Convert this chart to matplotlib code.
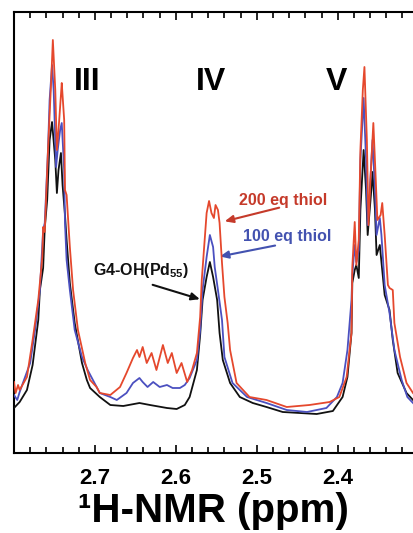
import matplotlib
matplotlib.use("Agg")
import matplotlib.pyplot as plt
from matplotlib.ticker import MultipleLocator

plt.rcParams["font.family"] = ["Liberation Sans", "DejaVu Sans"]
plt.rcParams["font.weight"] = "bold"
plt.rcParams["mathtext.fontset"] = "custom"
plt.rcParams["mathtext.rm"] = "Liberation Sans:bold"
plt.rcParams["mathtext.bf"] = "Liberation Sans:bold"

# chemical shift (ppm) and intensity (a.u.)
black_ppm = [2.800, 2.793, 2.784, 2.777, 2.770, 2.768, 2.764, 2.762, 2.759, 2.756,
             2.753, 2.749, 2.747, 2.745, 2.742, 2.740, 2.737, 2.735, 2.731, 2.725,
             2.716, 2.710, 2.706, 2.694, 2.681, 2.665, 2.645, 2.632, 2.611, 2.599,
             2.589, 2.583, 2.574, 2.570, 2.567, 2.562, 2.558, 2.554, 2.549, 2.546,
             2.542, 2.533, 2.521, 2.505, 2.488, 2.468, 2.447, 2.426, 2.406, 2.394,
             2.388, 2.383, 2.382, 2.379, 2.377, 2.374, 2.372, 2.368, 2.365, 2.363,
             2.359, 2.357, 2.354, 2.352, 2.348, 2.346, 2.342, 2.336, 2.332, 2.326,
             2.315, 2.307]
black_int = [45, 51, 63, 88, 133, 163, 185, 225, 253, 313,
             331, 293, 260, 283, 300, 268, 238, 213, 170, 130,
             90, 73, 65, 56, 48, 47, 50, 48, 45, 44,
             48, 56, 83, 118, 153, 176, 191, 176, 153, 120,
             93, 70, 56, 50, 46, 41, 40, 39, 42, 56,
             76, 120, 170, 183, 188, 175, 243, 303, 263, 218,
             258, 281, 243, 198, 208, 191, 158, 143, 113, 80,
             60, 53]

blue_ppm = [2.800, 2.796, 2.793, 2.789, 2.780, 2.774, 2.768, 2.764, 2.762, 2.758,
            2.756, 2.753, 2.751, 2.748, 2.746, 2.743, 2.741, 2.738, 2.737, 2.735,
            2.731, 2.725, 2.716, 2.709, 2.694, 2.681, 2.673, 2.661, 2.653, 2.645,
            2.641, 2.635, 2.628, 2.620, 2.611, 2.604, 2.595, 2.589, 2.583, 2.574,
            2.570, 2.567, 2.562, 2.558, 2.554, 2.552, 2.548, 2.543, 2.540, 2.530,
            2.512, 2.488, 2.463, 2.438, 2.414, 2.401, 2.394, 2.388, 2.383, 2.382,
            2.379, 2.377, 2.374, 2.372, 2.368, 2.365, 2.363, 2.359, 2.357, 2.354,
            2.352, 2.348, 2.346, 2.342, 2.336, 2.330, 2.321, 2.314, 2.307]
blue_int = [58, 53, 61, 70, 90, 123, 163, 223, 230, 303,
            353, 388, 363, 286, 303, 323, 330, 283, 230, 193,
            163, 123, 96, 83, 60, 56, 53, 60, 70, 75,
            71, 66, 71, 66, 68, 65, 65, 68, 75, 93,
            123, 163, 196, 218, 206, 186, 163, 133, 96, 70,
            56, 50, 43, 41, 45, 56, 70, 103, 153, 178,
            208, 191, 203, 293, 355, 293, 228, 283, 313, 263,
            218, 235, 218, 168, 140, 103, 73, 56, 50]

red_ppm = [2.800, 2.798, 2.795, 2.793, 2.784, 2.777, 2.770, 2.765, 2.764, 2.762,
           2.758, 2.754, 2.752, 2.749, 2.747, 2.745, 2.742, 2.741, 2.738, 2.737,
           2.735, 2.731, 2.727, 2.721, 2.712, 2.706, 2.698, 2.694, 2.681, 2.669,
           2.661, 2.653, 2.648, 2.645, 2.641, 2.636, 2.630, 2.624, 2.616, 2.610,
           2.605, 2.599, 2.593, 2.586, 2.580, 2.574, 2.570, 2.568, 2.562, 2.559,
           2.556, 2.553, 2.551, 2.548, 2.546, 2.543, 2.540, 2.536, 2.533, 2.525,
           2.509, 2.488, 2.463, 2.435, 2.410, 2.398, 2.389, 2.383, 2.382, 2.379,
           2.377, 2.374, 2.372, 2.369, 2.367, 2.364, 2.362, 2.359, 2.356, 2.353,
           2.351, 2.347, 2.345, 2.342, 2.338, 2.336, 2.332, 2.330, 2.323, 2.315,
           2.307]
red_int = [71, 60, 68, 63, 76, 113, 153, 196, 226, 221,
           303, 373, 413, 363, 303, 323, 358, 370, 333, 263,
           258, 206, 163, 123, 90, 73, 66, 60, 58, 66,
           80, 95, 103, 96, 106, 90, 100, 83, 108, 90,
           100, 80, 90, 71, 83, 100, 136, 173, 240, 252,
           240, 235, 248, 243, 230, 190, 156, 130, 103, 70,
           56, 53, 46, 48, 51, 56, 76, 120, 186, 231,
           188, 213, 303, 363, 386, 313, 228, 283, 330, 273,
           233, 238, 250, 218, 168, 165, 163, 130, 96, 70,
           60]

peak_names = ["III", "IV", "V"]
peak_pos = [2.709, 2.556, 2.401]
tick_ppm = [2.7, 2.6, 2.5, 2.4]

RED = "#e5482d"
BLUE = "#4b50c0"
BLACK = "#111111"

fig = plt.figure(figsize=(4.13, 5.33), dpi=100)
ax = fig.add_axes([14 / 413, 80 / 533, 1 - 14 / 413, 441 / 533])

ax.plot(black_ppm, black_int, color=BLACK, lw=1.3, zorder=3)
ax.plot(blue_ppm, blue_int, color=BLUE, lw=1.3, zorder=4)
ax.plot(red_ppm, red_int, color=RED, lw=1.3, zorder=5)

ax.set_xlim(2.800, 2.307)
ax.set_ylim(0, 441)

for name, pos in zip(peak_names, peak_pos):
    ax.text(pos, 371, name, ha="center", va="center", fontsize=23, fontweight="bold")

ax.text(2.468, 253, "200 eq thiol", ha="center", va="center", fontsize=11.5,
        fontweight="bold", color="#c53a2a")
ax.text(2.462, 216, "100 eq thiol", ha="center", va="center", fontsize=11.5,
        fontweight="bold", color="#4352b0")
ax.text(2.643, 182, r"G4-OH(Pd$_{\mathbf{55}}$)", ha="center", va="center",
        fontsize=11.5, fontweight="bold", color=BLACK)

ax.annotate("", xy=(2.543, 231), xytext=(2.469, 246),
            arrowprops=dict(arrowstyle="-|>,head_length=0.5,head_width=0.22",
                            color="#c53a2a", lw=1.5))
ax.annotate("", xy=(2.549, 196), xytext=(2.474, 208),
            arrowprops=dict(arrowstyle="-|>,head_length=0.5,head_width=0.22",
                            color="#4352b0", lw=1.5))
ax.annotate("", xy=(2.567, 153), xytext=(2.632, 169),
            arrowprops=dict(arrowstyle="-|>,head_length=0.5,head_width=0.22",
                            color=BLACK, lw=1.5))

ax.set_xticks(tick_ppm)
ax.xaxis.set_minor_locator(MultipleLocator(0.02))
ax.tick_params(axis="x", which="both", direction="in", top=True, width=1.2)
ax.tick_params(axis="x", which="major", length=6, labelsize=16, pad=11)
ax.tick_params(axis="x", which="minor", length=4)
ax.set_yticks([])
for lab in ax.get_xticklabels():
    lab.set_fontweight("bold")

for side in ["left", "top", "bottom"]:
    ax.spines[side].set_linewidth(1.5)
ax.spines["right"].set_visible(False)

ax.set_xlabel("¹H-NMR (ppm)", fontsize=29, fontweight="bold", labelpad=2)

fig.savefig("out.png", dpi=100)
